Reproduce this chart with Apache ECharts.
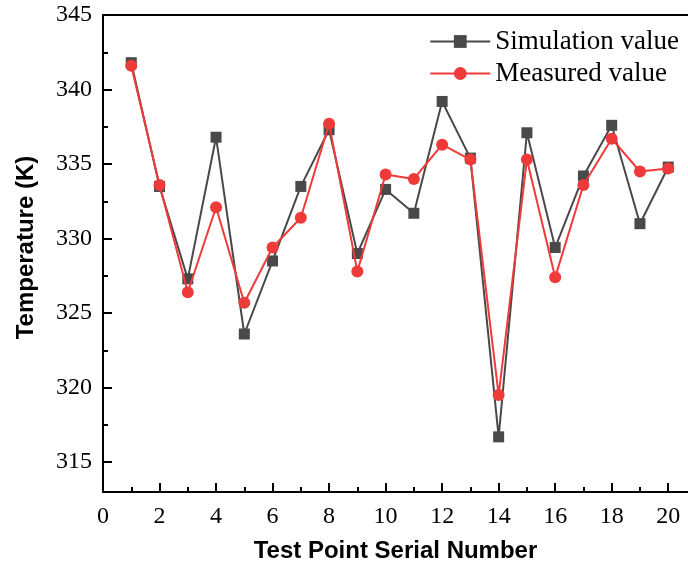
<!DOCTYPE html>
<html>
<head>
<meta charset="utf-8">
<script src="https://cdn.jsdelivr.net/npm/echarts@6/dist/echarts.min.js"></script>
<style>
  html, body { margin: 0; padding: 0; background: #fff; }
  #chart { width: 688px; height: 569px; }
</style>
</head>
<body>
<div id="chart"></div>
<script>
// test points 1..20, temperature in K
const testPoints = [1, 2, 3, 4, 5, 6, 7, 8, 9, 10, 11, 12, 13, 14, 15, 16, 17, 18, 19, 20];
const simulated = [341.8, 333.5, 327.3, 336.8, 323.6, 328.5, 333.5, 337.3, 329.0, 333.3,
                   331.7, 339.2, 335.4, 316.7, 337.1, 329.4, 334.2, 337.6, 331.0, 334.8];
const measured = [341.6, 333.6, 326.4, 332.1, 325.7, 329.4, 331.4, 337.7, 327.8, 334.3,
                  334.0, 336.3, 335.3, 319.5, 335.3, 327.4, 333.6, 336.7, 334.5, 334.7];

const xMajor = [0, 2, 4, 6, 8, 10, 12, 14, 16, 18, 20];
const xMinor = [1, 3, 5, 7, 9, 11, 13, 15, 17, 19];
const yMajor = [315, 320, 325, 330, 335, 340, 345];
const yMinor = [317.5, 322.5, 327.5, 332.5, 337.5, 342.5];

const GRAY = "#494949";
const RED = "#ef3a3a";
const serif = "Liberation Serif";
const sans = "Liberation Sans";

const X_MIN = 0, X_MAX = 20.7;
const Y_MIN = 313, Y_MAX = 345;

function pairs(vals) {
  return testPoints.map((x, i) => [x, vals[i]]);
}

const chart = echarts.init(document.getElementById("chart"), null, { renderer: "canvas" });

const axisLine = { show: true, lineStyle: { color: "#000", width: 2 } };
const noSplit = { show: false };

chart.setOption({
  animation: false,
  grid: { left: 103, right: 0, top: 15, bottom: 77, containLabel: false },
  legend: {
    orient: "vertical",
    right: 4,
    top: 23,
    itemWidth: 60,
    itemHeight: 16,
    itemGap: 5,
    textStyle: { fontFamily: serif, fontSize: 27, color: "#000" },
    data: ["Simulation value", "Measured value"],
  },
  xAxis: [
    {
      type: "value",
      min: X_MIN,
      max: X_MAX,
      position: "bottom",
      axisLine,
      splitLine: noSplit,
      axisTick: { show: true, inside: true, length: 9, lineStyle: { width: 2, color: "#000" }, customValues: xMajor },
      axisLabel: { customValues: xMajor, fontFamily: serif, fontSize: 24, color: "#000", margin: 13 },
      name: "Test Point Serial Number",
      nameLocation: "middle",
      nameGap: 47,
      nameTextStyle: { fontFamily: sans, fontWeight: "bold", fontSize: 24, color: "#000" },
    },
    {
      type: "value",
      min: X_MIN,
      max: X_MAX,
      position: "bottom",
      axisLine: { show: false },
      splitLine: noSplit,
      axisTick: { show: true, inside: true, length: 5, lineStyle: { width: 2, color: "#000" }, customValues: xMinor },
      axisLabel: { show: false },
    },
    {
      type: "value",
      min: X_MIN,
      max: X_MAX,
      position: "top",
      axisLine,
      splitLine: noSplit,
      axisTick: { show: false },
      axisLabel: { show: false },
    },
  ],
  yAxis: [
    {
      type: "value",
      min: Y_MIN,
      max: Y_MAX,
      position: "left",
      axisLine,
      splitLine: noSplit,
      axisTick: { show: true, inside: true, length: 9, lineStyle: { width: 2, color: "#000" }, customValues: yMajor },
      axisLabel: { customValues: yMajor, fontFamily: serif, fontSize: 24, color: "#000", margin: 11 },
      name: "Temperature (K)",
      nameLocation: "middle",
      nameGap: 65,
      nameTextStyle: { fontFamily: sans, fontWeight: "bold", fontSize: 24, color: "#000", padding: [0, 0, 0, 12] },
    },
    {
      type: "value",
      min: Y_MIN,
      max: Y_MAX,
      position: "left",
      axisLine: { show: false },
      splitLine: noSplit,
      axisTick: { show: true, inside: true, length: 5, lineStyle: { width: 2, color: "#000" }, customValues: yMinor },
      axisLabel: { show: false },
    },
  ],
  series: [
    {
      name: "Simulation value",
      type: "line",
      data: pairs(simulated),
      symbol: "rect",
      symbolSize: 11,
      itemStyle: { color: GRAY },
      lineStyle: { color: GRAY, width: 2 },
      z: 2,
    },
    {
      name: "Measured value",
      type: "line",
      data: pairs(measured),
      symbol: "circle",
      symbolSize: 12,
      itemStyle: { color: RED },
      lineStyle: { color: RED, width: 2 },
      z: 3,
    },
  ],
});
</script>
</body>
</html>
